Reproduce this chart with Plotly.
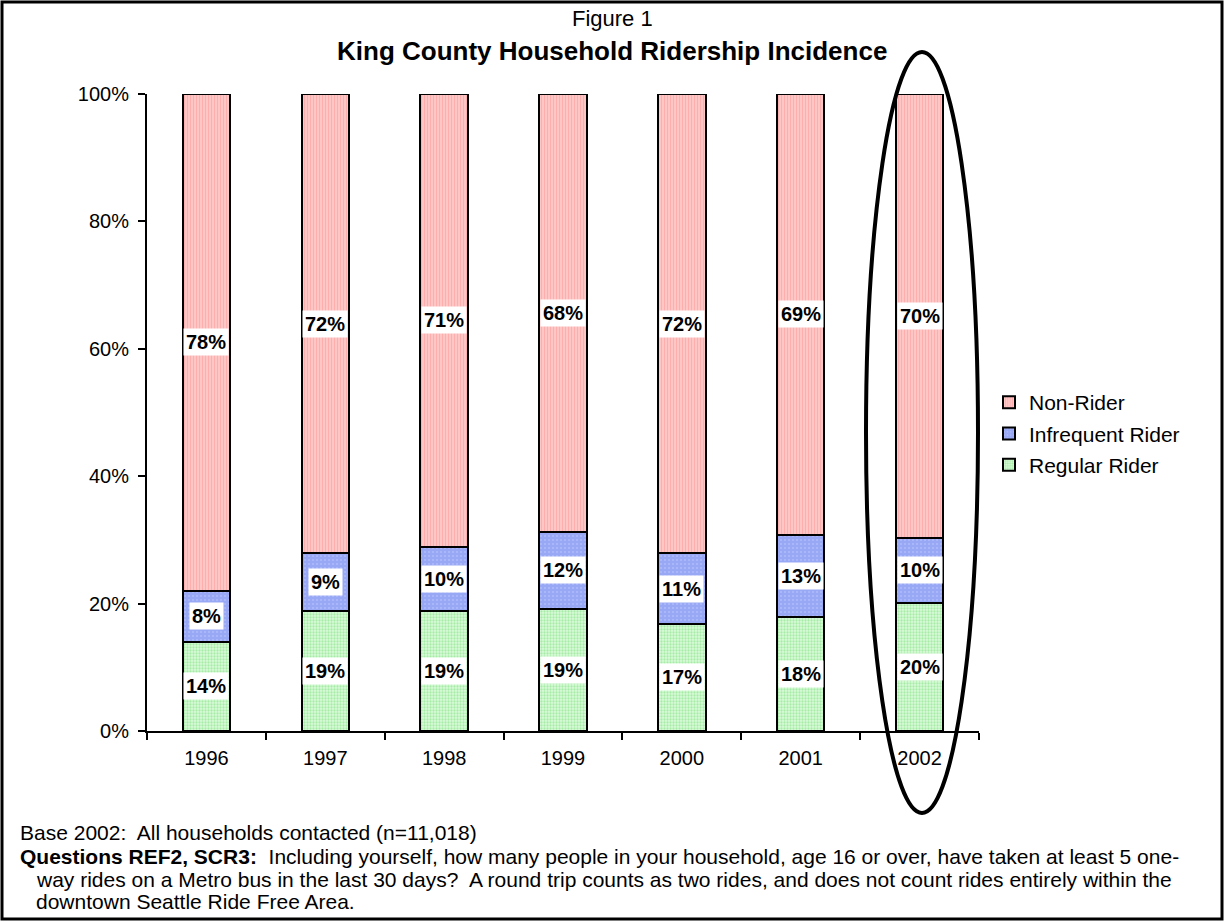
import plotly.graph_objects as go

years = ["1996", "1997", "1998", "1999", "2000", "2001", "2002"]
regular = [14, 18.8, 18.8, 19.2, 16.8, 17.9, 20.1]
infrequent = [8, 9.1, 10.1, 12.0, 11.1, 12.9, 10.2]
nonrider = [78, 72.1, 71.1, 68.8, 72.1, 69.2, 69.7]
regular_lbl = ["14%", "19%", "19%", "19%", "17%", "18%", "20%"]
infrequent_lbl = ["8%", "9%", "10%", "12%", "11%", "13%", "10%"]
nonrider_lbl = ["78%", "72%", "71%", "68%", "72%", "69%", "70%"]
y_ticks = [0, 20, 40, 60, 80, 100]
y_tick_text = ["0%", "20%", "40%", "60%", "80%", "100%"]

FONT = "Liberation Sans, Arial, sans-serif"
L, R, T, B = 147, 979, 94, 731
W, H = 1225, 922


def px(p):
    return (p - L) / (R - L)


def py(p):
    return (B - p) / (B - T)


series = [
    ("Regular Rider", regular, regular_lbl, 3,
     dict(color="#D2F8D2", pattern=dict(shape=".", fgcolor="#74DC74", bgcolor="#DAFADA", size=3, solidity=0.45))),
    ("Infrequent Rider", infrequent, infrequent_lbl, 2,
     dict(color="#99A9F5", pattern=dict(shape=".", fgcolor="#C4CDFB", bgcolor="#98A8F4", size=4, solidity=0.2))),
    ("Non-Rider", nonrider, nonrider_lbl, 1,
     dict(color="#FFB0B0", pattern=dict(shape="|", fgcolor="#FF8585", bgcolor="#FFD6D6", size=3, solidity=0.6))),
]

fig = go.Figure()
annotations = []
base = [0] * len(years)
for name, vals, lbls, rank, mk in series:
    fig.add_trace(go.Bar(
        x=years, y=vals, name=name, width=0.4, legendgroup=name, legendrank=rank,
        marker=dict(color=mk["color"], pattern=mk["pattern"], line=dict(color="black", width=2)),
    ))
    for i, (v, t) in enumerate(zip(vals, lbls)):
        annotations.append(dict(
            x=i, y=base[i] + v / 2, xref="x", yref="y", text="<b>" + t + "</b>",
            showarrow=False, bgcolor="white", borderpad=2,
            font=dict(family=FONT, size=20, color="black"),
        ))
        base[i] += v

FOOT = dict(family=FONT, size=21, color="black")
annotations += [
    dict(x=px(612), y=py(18), xref="paper", yref="paper", text="Figure 1", showarrow=False,
         font=dict(family=FONT, size=22, color="black"), xanchor="center", yanchor="middle"),
    dict(x=px(612), y=py(51), xref="paper", yref="paper", text="<b>King County Household Ridership Incidence</b>",
         showarrow=False, font=dict(family=FONT, size=26, color="black"), xanchor="center", yanchor="middle"),
    dict(x=px(18), y=py(832), xref="paper", yref="paper", text="Base 2002:  All households contacted (n=11,018)",
         showarrow=False, font=FOOT, xanchor="left", yanchor="middle"),
    dict(x=px(18), y=py(856), xref="paper", yref="paper",
         text="<b>Questions REF2, SCR3:</b>  Including yourself, how many people in your household, age 16 or over, have taken at least 5 one-",
         showarrow=False, font=FOOT, xanchor="left", yanchor="middle"),
    dict(x=px(34), y=py(879), xref="paper", yref="paper",
         text="way rides on a Metro bus in the last 30 days?  A round trip counts as two rides, and does not count rides entirely within the",
         showarrow=False, font=FOOT, xanchor="left", yanchor="middle"),
    dict(x=px(34), y=py(901), xref="paper", yref="paper", text="downtown Seattle Ride Free Area.",
         showarrow=False, font=FOOT, xanchor="left", yanchor="middle"),
]

shapes = [
    dict(type="rect", xref="paper", yref="paper", x0=px(2), x1=px(1222), y0=py(919), y1=py(2),
         line=dict(color="black", width=3), layer="above"),
    dict(type="circle", xref="paper", yref="paper", x0=px(866), x1=px(978), y0=py(813), y1=py(52),
         line=dict(color="black", width=4), layer="above"),
]

fig.update_layout(
    width=W, height=H, barmode="stack",
    margin=dict(l=L, r=W - R, t=T, b=H - B, autoexpand=False),
    paper_bgcolor="white", plot_bgcolor="white",
    font=dict(family=FONT, size=20, color="black"),
    showlegend=True,
    legend=dict(x=px(989), y=py(382), xanchor="left", yanchor="top", traceorder="grouped",
                font=dict(family=FONT, size=21, color="black"), bgcolor="rgba(0,0,0,0)",
                itemwidth=30, tracegroupgap=1),
    annotations=annotations, shapes=shapes,
    xaxis=dict(type="category", showline=True, linecolor="black", linewidth=2, ticks="outside",
               tickson="boundaries", ticklen=7, tickwidth=2, tickcolor="black", showgrid=False,
               tickfont=dict(family=FONT, size=20), range=[-0.5, 6.5], ticklabelstandoff=8),
    yaxis=dict(range=[0, 100], tickvals=y_ticks, ticktext=y_tick_text, showline=True, linecolor="black",
               linewidth=2, ticks="outside", ticklen=7, tickwidth=2, tickcolor="black", showgrid=False,
               zeroline=False, tickfont=dict(family=FONT, size=20), ticklabelstandoff=5),
    bargap=0.6,
)

fig.write_html("out.html", config={"displayModeBar": False})

with open("out.html", "r", encoding="utf-8") as f:
    html = f.read()
html = html.replace("<body>", '<body style="margin:0;padding:0;overflow:hidden">', 1)
with open("out.html", "w", encoding="utf-8") as f:
    f.write(html)
